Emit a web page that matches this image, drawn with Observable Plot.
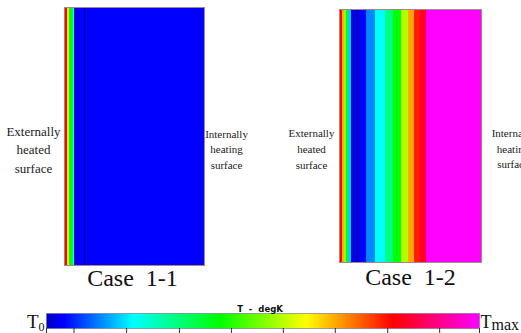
<!DOCTYPE html>
<html>
<head>
<meta charset="utf-8">
<script src="https://cdn.jsdelivr.net/npm/d3@7"></script>
<script src="https://cdn.jsdelivr.net/npm/@observablehq/plot@0.6"></script>
<style>
  html, body { margin: 0; padding: 0; background: #fff; }
  #chart { position: relative; width: 521px; height: 333px; overflow: hidden; background: #fff; }
  #chart svg { position: absolute; overflow: visible; }
</style>
</head>
<body>
<div id="chart"></div>
<script>
// ---- Data (normalized wall position 0..1, normalized temperature 0..1) ----
const case1Edges = [0, 0.021, 0.039, 0.061, 0.074, 1];
const case1Temps = [0.8, 0.62, 0.4, 0.2, 0.04];
const case1Contours = [0.093, 0.143];

const case2Edges = [0, 0.018, 0.032, 0.046, 0.060, 0.081, 0.123, 0.144, 0.190, 0.257, 0.324, 0.382, 0.435, 0.484, 0.530, 0.570, 0.611, 1];
const case2Temps = [0.8, 0.66, 0.52, 0.38, 0.17, 0.02, 0, 0.04, 0.125, 0.2, 0.3, 0.4, 0.54, 0.67, 0.78, 0.83, 1];

const colorStops = [0, 0.04, 0.2, 0.4, 0.6, 0.8, 1];
const colorRange = ["#0000c4", "#0000ff", "#00ffff", "#00ff00", "#ffff00", "#ff0000", "#ff00ff"];
const barTicks = [0, 0.0635, 0.185, 0.307, 0.427, 0.547, 0.667, 0.788, 0.908, 1];

const caseTitles = ["Case \u00a01-1", "Case \u00a01-2"];
const leftLabel = "Externally\nheated\nsurface";
const rightLabel = "Internally\nheating\nsurface";
const barTitle = "T\u00a0 -\u00a0 degK";

const serif = "Liberation Serif, Times New Roman, serif";
const colorScale = {type: "linear", domain: colorStops, range: colorRange, interpolate: "rgb"};

function bands(edges, temps) {
  return temps.map((t, i) => ({x1: edges[i], x2: edges[i + 1], t}));
}

const chart = document.getElementById("chart");
function place(el, left, top) {
  el.style.left = left + "px";
  el.style.top = top + "px";
  chart.appendChild(el);
}

// ---- Case 1-1 ----
const p1 = Plot.plot({
  width: 260, height: 300,
  marginLeft: 64, marginRight: 56, marginTop: 7, marginBottom: 35,
  x: {domain: [0, 1], axis: null},
  y: {domain: [0, 1], axis: null},
  color: colorScale,
  marks: [
    Plot.rect(bands(case1Edges, case1Temps), {x1: "x1", x2: "x2", y1: 0, y2: 1, fill: "t", shapeRendering: "crispEdges"}),
    Plot.ruleX(case1Contours, {stroke: "#000070", strokeOpacity: 0.7, strokeWidth: 1}),
    Plot.frame({stroke: "#a08888"}),
    Plot.text([leftLabel], {frameAnchor: "left", dx: -31, dy: 12, textAnchor: "middle", fontSize: 13, lineHeight: 1.42, fontFamily: serif, fill: "#222"}),
    Plot.text([rightLabel], {frameAnchor: "right", dx: 22, dy: 12, textAnchor: "middle", fontSize: 11, lineHeight: 1.41, fontFamily: serif, fill: "#222"}),
    Plot.text([caseTitles[0]], {frameAnchor: "bottom", lineAnchor: "bottom", dx: -2, dy: 20, fontSize: 24, fontFamily: serif, fill: "#111"})
  ]
});
place(p1, 0, 0);

// ---- Case 1-2 ----
const p2 = Plot.plot({
  width: 261, height: 300,
  marginLeft: 79, marginRight: 40, marginTop: 9, marginBottom: 38,
  x: {domain: [0, 1], axis: null},
  y: {domain: [0, 1], axis: null},
  color: colorScale,
  marks: [
    Plot.rect(bands(case2Edges, case2Temps), {x1: "x1", x2: "x2", y1: 0, y2: 1, fill: "t", shapeRendering: "crispEdges"}),
    Plot.frame({stroke: "#a08888"}),
    Plot.text([leftLabel], {frameAnchor: "left", dx: -28, dy: 12, textAnchor: "middle", fontSize: 11, lineHeight: 1.45, fontFamily: serif, fill: "#222"}),
    Plot.text([rightLabel], {frameAnchor: "right", dx: 31.5, dy: 12, textAnchor: "middle", fontSize: 11, lineHeight: 1.41, fontFamily: serif, fill: "#222"}),
    Plot.text([caseTitles[1]], {frameAnchor: "bottom", lineAnchor: "bottom", dy: 22, fontSize: 24, fontFamily: serif, fill: "#111"})
  ]
});
place(p2, 260, 0);

// ---- Colour bar ----
const p3 = Plot.plot({
  width: 521, height: 33,
  marginLeft: 46, marginRight: 42, marginTop: 13, marginBottom: 5,
  x: {domain: [0, 1], axis: null},
  y: {domain: [0, 1], axis: null},
  color: colorScale,
  marks: [
    Plot.raster({fill: (x, y) => x, x1: 0, x2: 1, y1: 0, y2: 1, width: 433, height: 1, interpolate: "none"}),
    Plot.frame({stroke: "#6a6a8a", strokeOpacity: 0.6}),
    Plot.ruleX(barTicks, {y1: 0, y2: -0.4, stroke: "#333", strokeWidth: 1}),
    Plot.text([barTitle], {frameAnchor: "top", lineAnchor: "bottom", dx: -3, dy: -2, fontSize: 8.5, fontWeight: "bold", fontFamily: "DejaVu Sans, sans-serif", fill: "#111"}),
    Plot.text(["T"], {frameAnchor: "bottom-left", lineAnchor: "bottom", textAnchor: "end", dx: -8, dy: -1, fontSize: 19, fontFamily: serif, fill: "#111"}),
    Plot.text(["0"], {frameAnchor: "bottom-left", lineAnchor: "bottom", textAnchor: "start", dx: -8, dy: 2, fontSize: 12, fontFamily: serif, fill: "#111"}),
    Plot.text(["T"], {frameAnchor: "bottom-right", lineAnchor: "bottom", textAnchor: "start", dx: 1, dy: -1, fontSize: 18, fontFamily: serif, fill: "#111"}),
    Plot.text(["max"], {frameAnchor: "bottom-right", lineAnchor: "bottom", textAnchor: "start", dx: 12, dy: 1, fontSize: 16, fontFamily: serif, fill: "#111"})
  ]
});
place(p3, 0, 300);
</script>
</body>
</html>
